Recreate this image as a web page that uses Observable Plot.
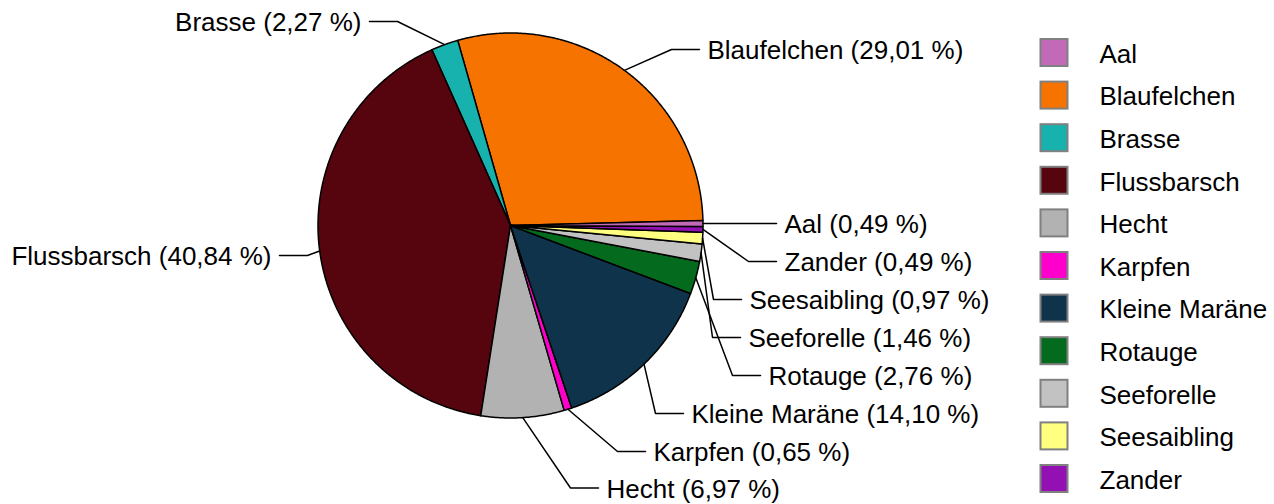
<!DOCTYPE html>
<html><head><meta charset="utf-8">
<script src="https://cdn.jsdelivr.net/npm/d3@7"></script>
<script src="https://cdn.jsdelivr.net/npm/@observablehq/plot@0.6"></script>
<style>html,body{margin:0;padding:0;background:#fff} svg{display:block}</style>
</head><body><div id="chart"></div>
<script>
// ---- data ----
const species = ["Aal","Blaufelchen","Brasse","Flussbarsch","Hecht","Karpfen","Kleine Maräne","Rotauge","Seeforelle","Seesaibling","Zander"];
const shares  = [0.49, 29.01, 2.27, 40.84, 6.97, 0.65, 14.10, 2.76, 1.46, 0.97, 0.49];
const colors  = ["#C26AB7","#F77300","#17B2AE","#56040D","#B2B2B2","#FF00CC","#10334C","#046A1D","#C2C2C2","#FFFF80","#9311B3"];
// order of slices, counter-clockwise from 3 o'clock
const pieOrder = ["Blaufelchen","Brasse","Flussbarsch","Hecht","Karpfen","Kleine Maräne","Rotauge","Seeforelle","Seesaibling","Zander","Aal"];

// ---- layout ----
const W = 1274, H = 504;
const CX = 510, CY = 225, R = 192.5, START_DEG = 1.5;
const FONT = "Liberation Sans, Arial, Helvetica, sans-serif";
const FS = 26;
// leader elbow positions & label side
const labelLayout = [
  {name:"Brasse",        ex:397, ey:21,  side:"left"},
  {name:"Blaufelchen",   ex:671, ey:49,  side:"right"},
  {name:"Aal",           ex:748, ey:223, side:"right"},
  {name:"Zander",        ex:748, ey:261, side:"right"},
  {name:"Seesaibling",   ex:713, ey:299, side:"right"},
  {name:"Seeforelle",    ex:712, ey:337, side:"right"},
  {name:"Rotauge",       ex:732, ey:375, side:"right"},
  {name:"Kleine Maräne", ex:655, ey:413, side:"right"},
  {name:"Karpfen",       ex:617, ey:451, side:"right"},
  {name:"Hecht",         ex:570, ey:487.5, side:"right"},
  {name:"Flussbarsch",   ex:307, ey:255, side:"left"}
];
const HSEG = 28, TGAP = 8;
const LEG_X1 = 1040.5, LEG_X2 = 1067.5, LEG_Y0 = 52.5, LEG_DY = 42.6, LEG_BOX = 27, LEG_TX = 1099;

// ---- derived geometry ----
const shareOf = Object.fromEntries(species.map((s,i)=>[s, shares[i]]));
const total = d3.sum(shares);
const rad = d => d*Math.PI/180;
const pt = (deg, r=R) => [CX + r*Math.cos(rad(deg)), CY - r*Math.sin(rad(deg))];
const fmt = v => d3.format(".2f")(v).replace(".", ",");

const slices = [];
let cum = 0;
for (const name of pieOrder) {
  const a0 = START_DEG + cum/total*360;
  cum += shareOf[name];
  const a1 = START_DEG + cum/total*360;
  slices.push({name, a0, a1, mid:(a0+a1)/2});
}
const polyRows = [];
for (const s of slices) {
  polyRows.push({name:s.name, x:CX, y:CY});
  const n = Math.max(2, Math.ceil((s.a1-s.a0)/0.4));
  for (let k=0;k<=n;k++){
    const [x,y] = pt(s.a0 + (s.a1-s.a0)*k/n);
    polyRows.push({name:s.name, x, y});
  }
}
const midOf = Object.fromEntries(slices.map(s=>[s.name, s.mid]));
const leaderRows = [];
const labelRows = [];
for (const L of labelLayout) {
  const [x0,y0] = pt(midOf[L.name]);
  const dir = L.side === "left" ? -1 : 1;
  leaderRows.push({name:L.name, x:x0, y:y0});
  leaderRows.push({name:L.name, x:L.ex, y:L.ey});
  leaderRows.push({name:L.name, x:L.ex + dir*HSEG, y:L.ey});
  labelRows.push({side:L.side, x:L.ex + dir*(HSEG+TGAP), y:L.ey, text:`${L.name} (${fmt(shareOf[L.name])} %)`});
}
const legendRows = species.map((s,i)=>({name:s, yc: LEG_Y0 + i*LEG_DY}));

const chart = Plot.plot({
  width: W, height: H,
  marginTop:0, marginRight:0, marginBottom:0, marginLeft:0,
  x: {type:"linear", domain:[0,W], range:[0,W], axis:null},
  y: {type:"linear", domain:[0,H], range:[0,H], axis:null},
  color: {domain: species, range: colors},
  style: {fontFamily: FONT, background:"#fff"},
  marks: [
    Plot.line(polyRows, {x:"x", y:"y", z:"name", fill:"name", stroke:"black", strokeWidth:1.5, curve:"linear-closed", strokeLinejoin:"round"}),
    Plot.line(leaderRows, {x:"x", y:"y", z:"name", stroke:"black", strokeWidth:1.5, strokeLinejoin:"miter"}),
    Plot.text(labelRows.filter(d=>d.side==="right"), {x:"x", y:"y", text:"text", textAnchor:"start", fontSize:FS, fontFamily:FONT, fill:"black", dy:1.5}),
    Plot.text(labelRows.filter(d=>d.side==="left"), {x:"x", y:"y", text:"text", textAnchor:"end", fontSize:FS, fontFamily:FONT, fill:"black", dy:1.5}),
    Plot.rect(legendRows, {x1:()=>LEG_X1, x2:()=>LEG_X2, y1:d=>d.yc-LEG_BOX/2, y2:d=>d.yc+LEG_BOX/2, fill:"name", stroke:"#808080", strokeWidth:2}),
    Plot.text(legendRows, {x:()=>LEG_TX, y:"yc", text:"name", textAnchor:"start", fontSize:FS, fontFamily:FONT, fill:"black", dy:1.5})
  ]
});
document.getElementById("chart").appendChild(chart);
</script>
</body></html>
